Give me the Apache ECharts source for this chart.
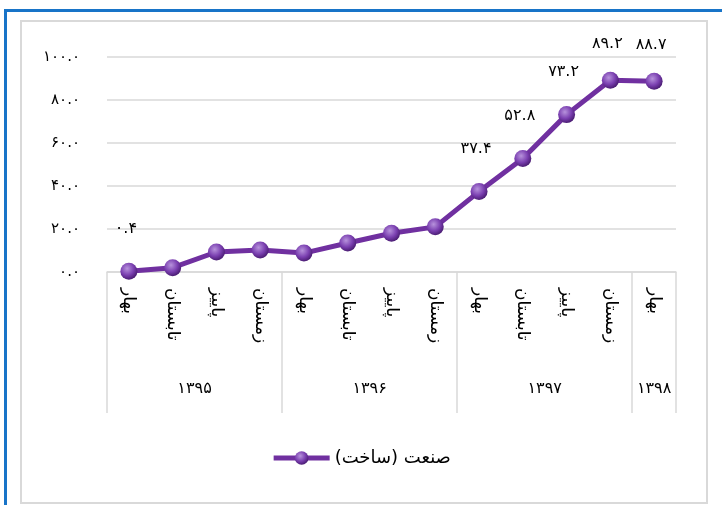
<!DOCTYPE html>
<html>
<head>
<meta charset="utf-8">
<script src="https://cdn.jsdelivr.net/npm/echarts@6/dist/echarts.min.js"></script>
<style>html,body{margin:0;padding:0;background:#fff}#c{width:722px;height:505px}</style>
</head>
<body>
<div id="c"></div>
<script>
const seasons = ['بهار','تابستان','پاییز','زمستان','بهار','تابستان','پاییز','زمستان','بهار','تابستان','پاییز','زمستان','بهار'];
const values = [0.4, 2.0, 9.3, 10.2, 8.8, 13.5, 18.0, 21.0, 37.4, 52.8, 73.2, 89.2, 88.7];
const showLabel = [true,false,false,false,false,false,false,false,true,true,true,true,true];
const years = ['۱۳۹۵','۱۳۹۶','۱۳۹۷','۱۳۹۸'];
const yearSizes = [4,4,4,1];
const seriesName = 'صنعت (ساخت)';
const yMin = 0, yMax = 100, yStep = 20;

const fa = s => String(s).replace(/\d/g, d => '۰۱۲۳۴۵۶۷۸۹'[d]);
const FONT = 'DejaVu Sans';

// second-level axis: half-step slots
const nCat = seasons.length;
const yearSlots = new Array(nCat * 2 + 1).fill('');
const boundaries = new Set([0]);
let start = 0;
years.forEach((y, i) => {
  yearSlots[start * 2 + yearSizes[i]] = y;
  start += yearSizes[i];
  boundaries.add(start * 2);
});

const dataPts = values.map((v, i) => ({
  value: v,
  label: {show: showLabel[i], distance: i >= 11 ? 20 : 26}
}));

const chart = echarts.init(document.getElementById('c'), null, {renderer: 'canvas'});
chart.setOption({
  animation: false,
  backgroundColor: '#fff',
  textStyle: {fontFamily: FONT},
  grid: {left: 107, right: 46, top: 57, bottom: 233, containLabel: false},
  graphic: [
    {type: 'rect', shape: {x: 21, y: 21, width: 686, height: 482}, style: {fill: 'none', stroke: '#d9d9d9', lineWidth: 2}},
    {type: 'line', shape: {x1: 5.5, y1: 9, x2: 5.5, y2: 505}, style: {stroke: '#1874c8', lineWidth: 3}},
    {type: 'line', shape: {x1: 4, y1: 10.5, x2: 722, y2: 10.5}, style: {stroke: '#1874c8', lineWidth: 3}}
  ],
  legend: {
    bottom: 33, left: 'center',
    itemWidth: 56, itemHeight: 17, itemGap: 6,
    lineStyle: {width: 5},
    textStyle: {fontFamily: FONT, fontSize: 18, color: '#000'},
    data: [seriesName]
  },
  xAxis: [
    {
      type: 'category', data: seasons, boundaryGap: true,
      axisLine: {show: true, lineStyle: {color: '#d9d9d9', width: 1.5}},
      axisTick: {show: false},
      axisLabel: {rotate: -90, margin: 16, fontFamily: FONT, fontSize: 17, color: '#000', interval: 0}
    },
    {
      type: 'category', position: 'bottom', data: yearSlots, boundaryGap: false,
      axisLine: {show: false},
      axisTick: {show: true, length: 141, interval: (idx) => boundaries.has(idx), lineStyle: {color: '#d9d9d9', width: 1.5}},
      axisLabel: {show: true, margin: 109, fontFamily: FONT, fontSize: 16, color: '#000', interval: (idx, v) => v !== ''}
    }
  ],
  yAxis: {
    type: 'value', min: yMin, max: yMax, interval: yStep,
    axisLine: {show: false}, axisTick: {show: false},
    splitLine: {lineStyle: {color: '#d9d9d9', width: 1.5}},
    axisLabel: {margin: 27, fontFamily: FONT, fontSize: 15, color: '#000', formatter: v => fa(v.toFixed(1))}
  },
  series: [{
    name: seriesName, type: 'line', data: dataPts, xAxisIndex: 0,
    lineStyle: {color: '#7030a0', width: 5},
    symbol: 'circle', symbolSize: 17,
    itemStyle: {
      color: {type: 'radial', x: 0.4, y: 0.35, r: 0.65, colorStops: [
        {offset: 0, color: '#b792dc'}, {offset: 0.6, color: '#7a3fb0'}, {offset: 1, color: '#4b1d74'}
      ]},
      borderWidth: 0
    },
    label: {position: 'top', fontFamily: FONT, fontSize: 16, color: '#000', offset: [-3, 0], formatter: p => fa(p.value.toFixed(1))}
  }]
});
</script>
</body>
</html>
